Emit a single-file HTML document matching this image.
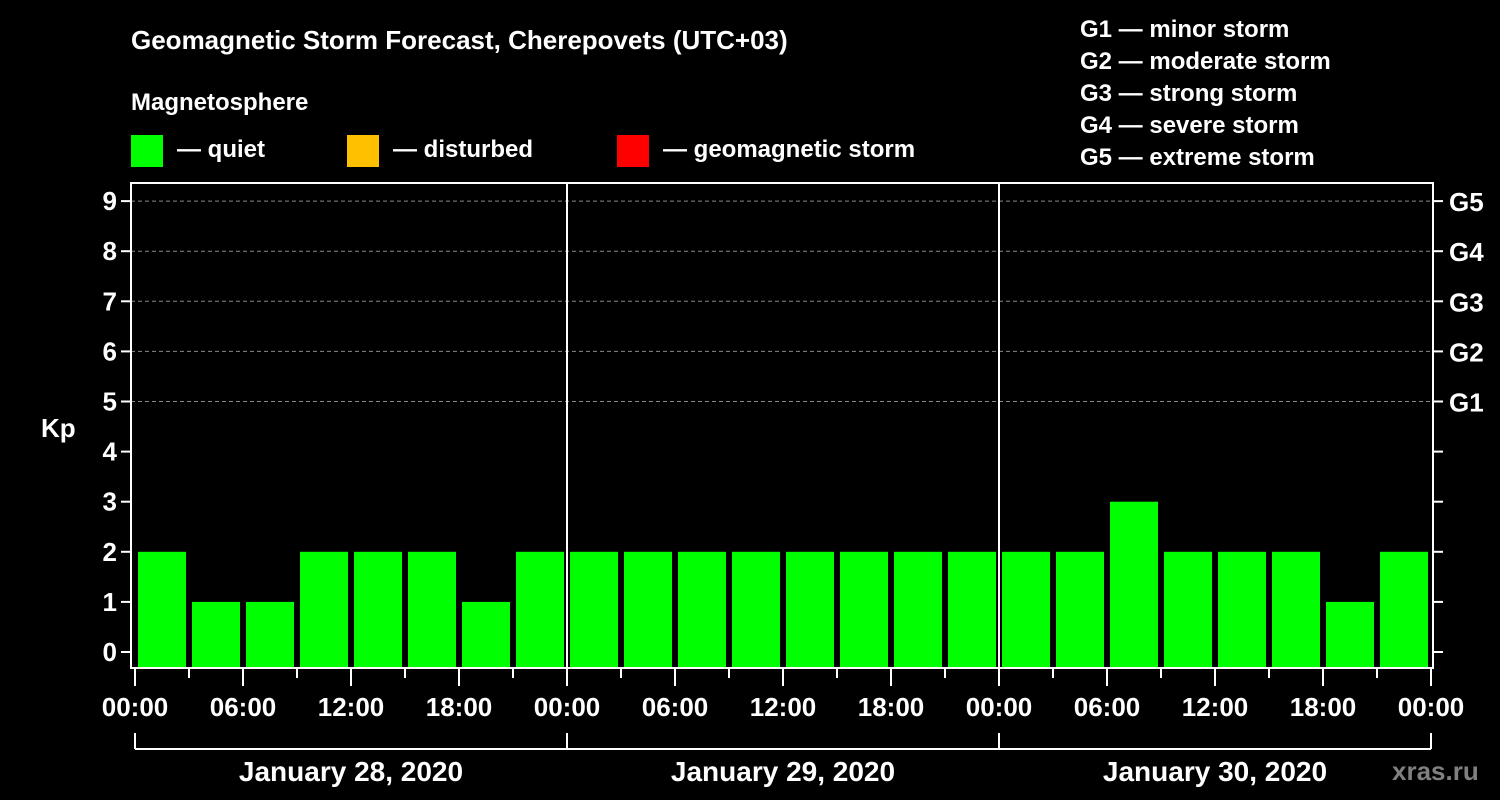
<!DOCTYPE html>
<html><head><meta charset="utf-8"><style>
html,body{margin:0;padding:0;background:#000;width:1500px;height:800px;overflow:hidden}
svg text{font-family:"Liberation Sans",sans-serif;font-weight:bold;fill:#fff}
</style></head><body>
<svg id="chart" width="1500" height="800" xmlns="http://www.w3.org/2000/svg">
<text x="131" y="49" font-size="26">Geomagnetic Storm Forecast, Cherepovets (UTC+03)</text>
<text x="131" y="110" font-size="24">Magnetosphere</text>
<g>
<rect x="131" y="135" width="32" height="32" fill="#00ff00"/>
<text x="177" y="157" font-size="24">— quiet</text>
<rect x="347" y="135" width="32" height="32" fill="#ffc000"/>
<text x="393" y="157" font-size="24">— disturbed</text>
<rect x="617" y="135" width="32" height="32" fill="#ff0000"/>
<text x="663" y="157" font-size="24">— geomagnetic storm</text>
</g>
<g font-size="24">
<text x="1080" y="37" font-size="24">G1 — minor storm</text>
<text x="1080" y="69" font-size="24">G2 — moderate storm</text>
<text x="1080" y="101" font-size="24">G3 — strong storm</text>
<text x="1080" y="133" font-size="24">G4 — severe storm</text>
<text x="1080" y="165" font-size="24">G5 — extreme storm</text>
</g>
<text x="41" y="437" font-size="26">Kp</text>
<text x="1392" y="780" font-size="26" style="fill:#808080">xras.ru</text>
<g id="plot"></g>
</svg>
<script>
const days = ["January 28, 2020","January 29, 2020","January 30, 2020"];
const kpValues = [2,1,1,2,2,2,1,2, 2,2,2,2,2,2,2,2, 2,2,3,2,2,2,1,2];
const yTicks = [0,1,2,3,4,5,6,7,8,9];
const gLabels = ["G1","G2","G3","G4","G5"];
const timeLabels = ["00:00","06:00","12:00","18:00"];

const NS="http://www.w3.org/2000/svg";
const g=document.getElementById('plot');
const L=131,R=1433,T=183,B=668,X0=135,SLOT=54;
const y=v=>652-v*50.1;
const x=i=>X0+i*SLOT;
function mk(t,a){const e=document.createElementNS(NS,t);for(const k in a)e.setAttribute(k,a[k]);g.appendChild(e);return e;}
// gridlines
yTicks.forEach(v=>{if(v>=5){const l=mk('line',{x1:L,x2:R,y1:y(v),y2:y(v),stroke:'#888','stroke-dasharray':'4,3','stroke-width':1});

}});
// bars
kpValues.forEach((v,i)=>{const c=v>=5?'#ff0000':(v>=4?'#ffc000':'#00ff00');
const r=mk('rect',{x:x(i)+3,y:y(v),width:48,height:B-y(v),fill:c});

});
// day separators
for(let d=1;d<days.length;d++){const l=mk('line',{x1:x(d*8),x2:x(d*8),y1:T,y2:B,stroke:'#fff','stroke-width':2});

}
// frame
const fr=mk('rect',{x:L,y:T,width:R-L,height:B-T,fill:'none',stroke:'#fff','stroke-width':2});


// y ticks
yTicks.forEach(v=>{mk('line',{x1:L-10,x2:L,y1:y(v),y2:y(v),stroke:'#fff','stroke-width':2});
mk('line',{x1:R,x2:R+10,y1:y(v),y2:y(v),stroke:'#fff','stroke-width':2});
const t=mk('text',{x:L-14,y:y(v)+9,'text-anchor':'end','font-size':26});t.textContent=v;

});
gLabels.forEach((s,i)=>{const t=mk('text',{x:1449,y:y(i+5)+10,'font-size':26});t.textContent=s;

});
// x ticks
for(let i=0;i<=kpValues.length;i++){const major=i%2===0;
mk('line',{x1:x(i),x2:x(i),y1:B,y2:major?686:678,stroke:'#fff','stroke-width':2});
if(major){const t=mk('text',{x:x(i),y:716,'text-anchor':'middle','font-size':26});t.textContent=timeLabels[(i/2)%4];

}}
// day brackets
const br=mk('line',{x1:x(0),x2:x(days.length*8),y1:749,y2:749,stroke:'#fff','stroke-width':2});


for(let d=0;d<=days.length;d++)mk('line',{x1:x(d*8),x2:x(d*8),y1:733,y2:749,stroke:'#fff','stroke-width':2});
days.forEach((s,d)=>{const t=mk('text',{x:x(d*8+4),y:781,'text-anchor':'middle','font-size':28});t.textContent=s;

});
</script>
</body></html>
